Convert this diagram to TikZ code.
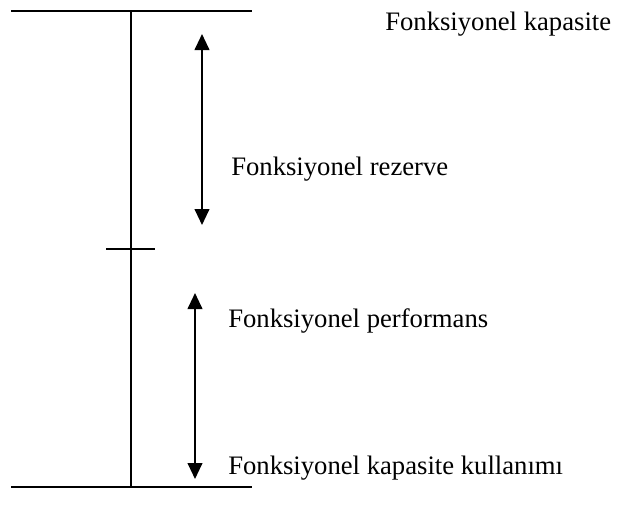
\documentclass[tikz,border=0pt]{standalone}
\usepackage{fontspec}
\setmainfont{Liberation Serif}
\usetikzlibrary{arrows.meta}
\tikzset{
  axis/.style={line width=1.5pt},
  span/.style={line width=1.5pt,{Triangle[width=11pt,length=12pt]}-{Triangle[width=11pt,length=12pt]}},
  lbl/.style={anchor=base west,inner sep=0pt,font=\fontsize{20}{24}\selectfont}
}
\begin{document}
\begin{tikzpicture}[x=0.75pt,y=-0.75pt]
\useasboundingbox (0,0) rectangle (624,519);
% scale bars
\coordinate (tl) at (11,11);
\coordinate (tr) at (252,11);
\coordinate (bl) at (11,487);
\coordinate (br) at (252,487);
\coordinate (vt) at (131,11);
\coordinate (vb) at (131,487);
\coordinate (ml) at (106,249);
\coordinate (mr) at (155,249);
\draw[axis] (tl) -- (tr);
\draw[axis] (bl) -- (br);
\draw[axis] (vt) -- (vb);
\draw[axis] (ml) -- (mr);
% ranges
\coordinate (a1) at (202,34);
\coordinate (a2) at (202,225);
\coordinate (b1) at (195,293);
\coordinate (b2) at (195,479);
\draw[span] (a1) -- (a2);
\draw[span] (b1) -- (b2);
% labels
\node[lbl] (cap) at (385,30) {Fonksiyonel kapasite};
\node[lbl] (rez) at (231,175) {Fonksiyonel rezerve};
\node[lbl] (perf) at (228,327) {Fonksiyonel performans};
\node[lbl] (use) at (228,474) {Fonksiyonel kapasite kullanımı};
\end{tikzpicture}
\end{document}
